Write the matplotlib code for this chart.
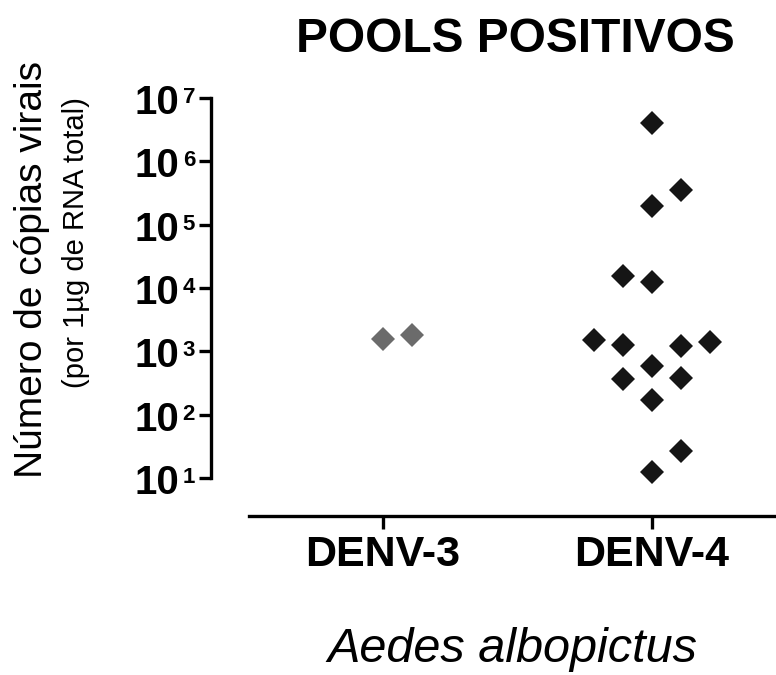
import matplotlib
matplotlib.use("Agg")
import matplotlib.pyplot as plt
import numpy as np

# ---- data ----
categories = ["DENV-3", "DENV-4"]
denv3_values = [1.57e3, 1.8e3]
denv4_values = [4.1e6, 3.5e5, 2.0e5, 1.55e4, 1.23e4, 1.5e3, 1.26e3, 1.2e3,
                1.4e3, 5.9e2, 3.6e2, 3.8e2, 1.7e2, 27, 12.3]
ytick_exponents = [1, 2, 3, 4, 5, 6, 7]
title = "POOLS POSITIVOS"
ylabel_main = "Número de cópias virais"
ylabel_sub = "(por 1µg de RNA total)"
xlabel = "Aedes albopictus"

# ---- layout (scatter spread, in marker-width steps) ----
step = 0.108
denv3_spread = [0, 1]
denv4_spread = [0, 1, 0, -1, 0, -2, -1, 1, 2, 0, -1, 1, 0, 1, 0]

plt.rcParams['font.family'] = ['Liberation Sans', 'DejaVu Sans']

W, H = 776, 675
fig = plt.figure(figsize=(W / 100, H / 100), dpi=100)
left_px, right_px, top_px, bottom_px = 210.7, 776, 90, 516
ax = fig.add_axes([left_px / W, 1 - bottom_px / H,
                   (right_px - left_px) / W, (bottom_px - top_px) / H])

ax.set_yscale('log')
ppd = (478 - 98) / 6.0
ax.set_ylim(10 ** (1 - (bottom_px - 478) / ppd), 10 ** (7 + (98 - top_px) / ppd))
ax.set_xlim(-(383 - left_px) / 269, (right_px - 383) / 269)

x3 = [0 + s * step for s in denv3_spread]
x4 = [1 + s * step for s in denv4_spread]
ax.plot(x3, denv3_values, linestyle='none', marker='D', markersize=12.2,
        color='#6b6b6b', markeredgewidth=0)
ax.plot(x4, denv4_values, linestyle='none', marker='D', markersize=12.2,
        color='#151515', markeredgewidth=0)

for s in ['top', 'right']:
    ax.spines[s].set_visible(False)
ax.spines['left'].set_linewidth(2.4)
ax.spines['bottom'].set_linewidth(2.4)
ax.spines['left'].set_bounds(10, 1e7)
ax.spines['bottom'].set_bounds(-0.5, 1.8)

ax.set_yticks([10.0 ** e for e in ytick_exponents])
ax.yaxis.set_minor_locator(matplotlib.ticker.NullLocator())
ax.set_yticklabels([])
ax.tick_params(axis='y', length=9, width=2.4, color='black')
ax.set_xticks([0, 1])
ax.set_xticklabels([])
ax.tick_params(axis='x', length=9, width=2.4, color='black')

ytr = ax.get_yaxis_transform()
for e in ytick_exponents:
    ax.annotate("10", xy=(0, 10.0 ** e), xycoords=ytr, xytext=(-31, -5),
                textcoords='offset pixels', ha='right', va='center',
                fontsize=29, fontweight='bold', annotation_clip=False)
    ax.annotate(str(e), xy=(0, 10.0 ** e), xycoords=ytr, xytext=(-28, 11),
                textcoords='offset pixels', ha='left', va='top',
                fontsize=16, fontweight='bold', annotation_clip=False)

xtr = ax.get_xaxis_transform()
for i, c in enumerate(categories):
    ax.annotate(c, xy=(i, 0), xycoords=xtr, xytext=(0, -19),
                textcoords='offset pixels', ha='center', va='top',
                fontsize=31, fontweight='bold', annotation_clip=False)

fig.text(515 / W, 1 - 40 / H, title, ha='center', va='center',
         fontsize=34.5, fontweight='bold')
fig.text(32 / W, 1 - 269 / H, ylabel_main, ha='center', va='center',
         rotation=90, fontsize=28)
fig.text(76 / W, 1 - 243 / H, ylabel_sub, ha='center', va='center',
         rotation=90, fontsize=21)
fig.text(512 / W, 1 - 650 / H, xlabel, ha='center', va='center',
         fontsize=35, style='italic')

fig.savefig("out.png", dpi=100)
